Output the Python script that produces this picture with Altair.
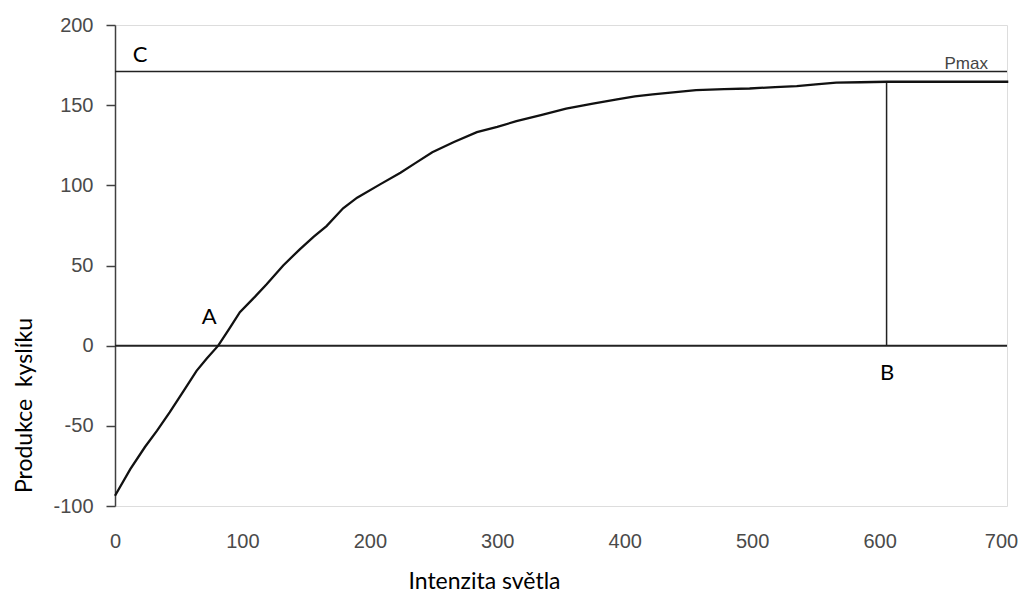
import altair as alt
import pandas as pd

# light curve (oxygen production vs light intensity)
intensity = [0, 12, 23.5, 33, 43, 54, 64, 72, 81, 90, 98, 108, 119, 132, 145, 156, 166, 179, 190, 208, 224, 236, 249, 266, 284, 300, 315, 335, 354, 375, 394, 408, 422, 440, 456, 478, 498, 518, 535, 550, 566, 585, 606, 640, 670, 701]
production = [-93.6, -77, -63.2, -53, -41.4, -28, -15.7, -8, 0, 11, 20.9, 29, 38.3, 50, 60.1, 68, 74.6, 85.7, 92.3, 100.6, 107.9, 114, 120.6, 127, 133.2, 136.5, 140, 144, 147.8, 151, 153.6, 155.5, 156.7, 158.2, 159.4, 160, 160.4, 161.3, 161.9, 163, 164, 164.3, 164.6, 164.6, 164.6, 164.6]

x_ticks = [0, 100, 200, 300, 400, 500, 600, 700]
y_ticks = [-100, -50, 0, 50, 100, 150, 200]

pmax_level = [171]
zero_level = [0]
b_x = [605.5]
b_top = [164.6]

label_text = ["A", "B", "C"]
label_x = [74, 605.9, 19.6]
label_y = [17.8, -17.3, 181.6]

pmax_text = ["Pmax"]
pmax_x = [668]
pmax_y = [172.5]

curve_df = pd.DataFrame({"x": intensity, "y": production})
hline_df = pd.DataFrame({"x": [0, 0], "x2": [700, 700], "y": pmax_level + zero_level, "w": [1.5, 2]})
vline_df = pd.DataFrame({"x": b_x, "y": zero_level, "y2": b_top})
lab_df = pd.DataFrame({"t": label_text, "x": label_x, "y": label_y})
pmax_df = pd.DataFrame({"t": pmax_text, "x": pmax_x, "y": pmax_y})

xscale = alt.Scale(domain=[0, 700], nice=False, zero=False)
yscale = alt.Scale(domain=[-100, 200], nice=False, zero=False)

xaxis = alt.Axis(
    values=x_ticks, grid=False, domain=False, ticks=False, tickSize=0,
    labelPadding=25, labelFont="Liberation Sans", labelFontSize=20, labelColor="#4a4a4a",
    labelExpr="datum.value + ''",
    labelOffset={"condition": {"test": "datum.value == 700", "value": -6}, "value": 0},
    title="Intenzita světla", titleFont="Lato", titleFontSize=23, titleFontWeight="normal",
    titleColor="#000000", titleX=369, titleY=75, titleAlign="center", titleBaseline="middle",
    labelFlush=False,
)
yaxis = alt.Axis(
    values=y_ticks, grid=False, domain=True, domainColor="#404040", domainWidth=1.5,
    ticks=True, tickSize=9, tickColor="#404040", tickWidth=1.5,
    labelPadding=13, labelFont="Liberation Sans", labelFontSize=20, labelColor="#4a4a4a",
    labelExpr="datum.value + ''",
    title="Produkce\u00a0\u00a0kyslíku", titleFont="Lato", titleFontSize=23, titleFontWeight="normal",
    titleColor="#000000", titleX=-91, titleY=380, titleAlign="center", titleBaseline="middle",
    titleAngle=270, labelFlush=False,
)

curve = alt.Chart(curve_df).mark_line(color="#111111", strokeWidth=2.3, interpolate="linear").encode(
    x=alt.X("x:Q", scale=xscale, axis=xaxis),
    y=alt.Y("y:Q", scale=yscale, axis=yaxis),
)

hlines = alt.Chart(hline_df).mark_rule(color="#222222").encode(
    x=alt.X("x:Q", scale=xscale),
    x2="x2:Q",
    y=alt.Y("y:Q", scale=yscale),
    strokeWidth=alt.StrokeWidth("w:Q", scale=None, legend=None),
)

vline = alt.Chart(vline_df).mark_rule(color="#222222", strokeWidth=1.5).encode(
    x=alt.X("x:Q", scale=xscale),
    y=alt.Y("y:Q", scale=yscale),
    y2="y2:Q",
)

labels = alt.Chart(lab_df).mark_text(font="Lato", fontSize=22, color="#000000", align="center", baseline="middle").encode(
    x=alt.X("x:Q", scale=xscale),
    y=alt.Y("y:Q", scale=yscale),
    text="t:N",
)

pmax = alt.Chart(pmax_df).mark_text(font="Liberation Sans", fontSize=17, color="#444444", align="center", baseline="alphabetic").encode(
    x=alt.X("x:Q", scale=xscale),
    y=alt.Y("y:Q", scale=yscale),
    text="t:N",
)

chart = alt.layer(hlines, vline, curve, labels, pmax).properties(
    width=892, height=481,
    autosize=alt.AutoSizeParams(type="none"),
    padding={"left": 107, "top": 17, "right": 12, "bottom": 92},
).configure_view(stroke=None).configure(background="white")

chart.save("out.html", embed_options={"renderer": "svg", "actions": False})
